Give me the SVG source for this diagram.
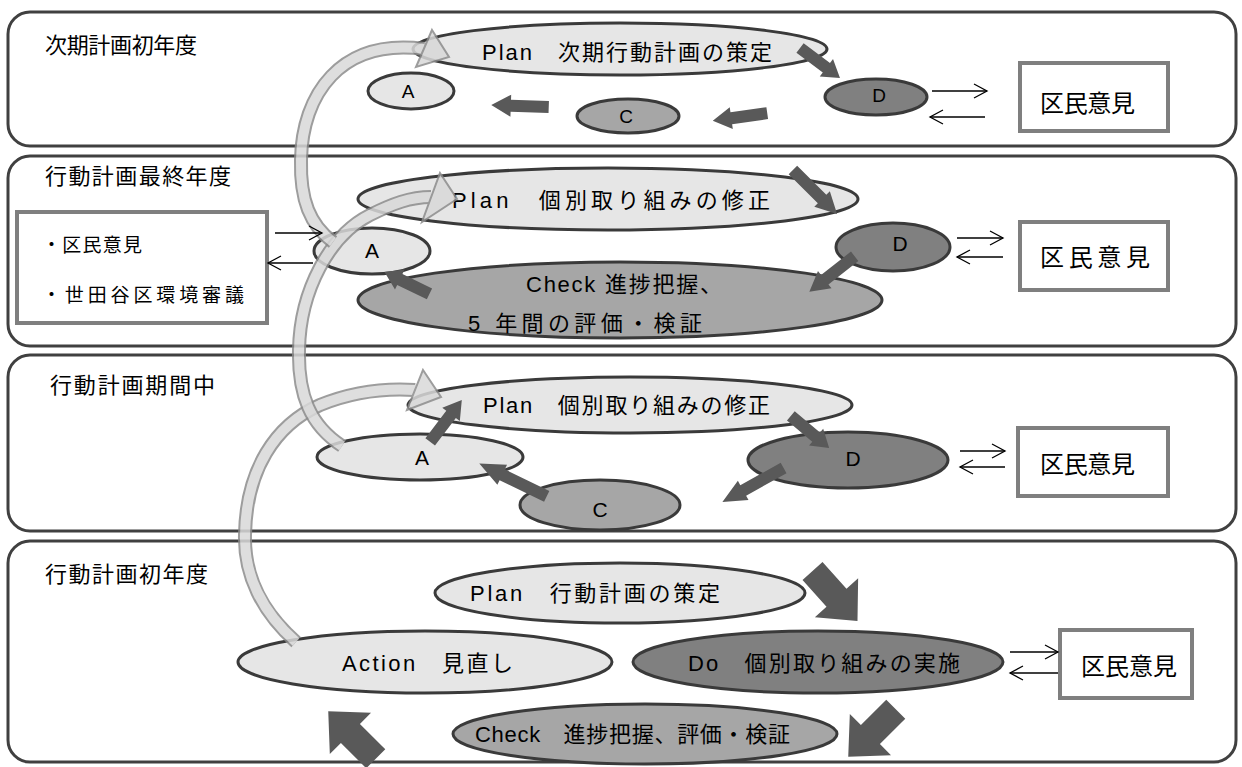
<svg xmlns="http://www.w3.org/2000/svg" width="1242" height="767" viewBox="0 0 1242 767">
<defs>
<style>
.band{fill:#fff;stroke:#404040;stroke-width:3}
.el{stroke:#3a3a3a;stroke-width:3}
.l{fill:#e6e6e6}
.m{fill:#a6a6a6}
.d{fill:#808080}
.box{fill:#fff;stroke:#7f7f7f;stroke-width:4}
text{font-family:"Liberation Sans","Noto Sans CJK JP",sans-serif;fill:#000;font-size:22px}
.s{font-size:19px}
.lb{font-size:21px}
.bx{font-size:24px}
.c{text-anchor:middle}
.thin{stroke:#000;stroke-width:1.3;fill:none;marker-end:url(#open)}
.blk{fill:#595959}
.co{fill:none;stroke:#8c8c8c;stroke-width:14}
.ci{fill:none;stroke:#d9d9d9;stroke-width:10}
.ch{fill:#d9d9d9;stroke:#8c8c8c;stroke-width:2;stroke-linejoin:miter}
</style>
<marker id="open" markerUnits="userSpaceOnUse" markerWidth="16" markerHeight="16" refX="14" refY="8" orient="auto"><path d="M1,1 L14,8 L1,15" fill="none" stroke="#000" stroke-width="1.3"/></marker>
<path id="sa" d="M-25,-6 L8,-6 L8,-11 L25,0 L8,11 L8,6 L-25,6 Z"/>
<path id="ba" d="M-30,-12 L2,-12 L2,-26 L30,0 L2,26 L2,12 L-30,12 Z"/>
</defs>

<g id="band1">
<rect class="band" x="8" y="12" width="1228" height="134" rx="22"/>
<text x="45" y="53" textLength="152">次期計画初年度</text>
</g>
<g id="band2">
<rect class="band" x="8" y="156" width="1228" height="190" rx="22"/>
<text x="45" y="184" textLength="186">行動計画最終年度</text>
</g>
<g id="band3">
<rect class="band" x="8" y="355" width="1228" height="176" rx="22"/>
<text x="50" y="393" textLength="165">行動計画期間中</text>
</g>
<g id="band4">
<rect class="band" x="8" y="541" width="1228" height="221" rx="22"/>
<text x="45" y="582" textLength="163">行動計画初年度</text>
</g>

<!-- band 1 nodes -->
<g id="b1-plan"><ellipse class="el l" cx="620" cy="49" rx="207" ry="26"/><text x="482" y="60" textLength="290">Plan　次期行動計画の策定</text></g>
<g id="b1-a"><ellipse class="el l" cx="411" cy="91" rx="43" ry="18"/><text x="408" y="98" class="s c">A</text></g>
<g id="b1-c"><ellipse class="el m" cx="628" cy="116" rx="51" ry="17"/><text x="626" y="123" class="s c">C</text></g>
<g id="b1-d"><ellipse class="el d" cx="876" cy="97" rx="51" ry="18"/><text x="879" y="102" class="s c">D</text></g>
<g id="b1-box"><rect class="box" x="1020" y="63" width="148" height="68"/><text x="1040" y="112" class="bx" textLength="95">区民意見</text></g>

<!-- band 2 nodes -->
<g id="b2-plan"><ellipse class="el l" cx="608" cy="199" rx="250" ry="31"/><text x="452" y="208" textLength="318">Plan　個別取り組みの修正</text></g>
<g id="b2-check"><ellipse class="el m" cx="620" cy="300" rx="262" ry="38"/><text x="526" y="292" textLength="196">Check 進捗把握、</text><text x="468" y="331" textLength="234">5 年間の評価・検証</text></g>
<g id="b2-a"><ellipse class="el l" cx="372" cy="251" rx="58" ry="23"/><text x="372" y="258" class="lb c">A</text></g>
<g id="b2-d"><ellipse class="el d" cx="893" cy="247" rx="57" ry="24"/><text x="900" y="251" class="lb c">D</text></g>
<g id="b2-left"><rect class="box" x="17" y="212" width="250" height="111"/><text x="42" y="252" class="s" textLength="100">・区民意見</text><text x="42" y="302" class="s" textLength="202">・世田谷区環境審議</text></g>
<g id="b2-box"><rect class="box" x="1020" y="222" width="148" height="68"/><text x="1040" y="266" class="bx" textLength="110">区 民 意 見</text></g>

<!-- band 3 nodes -->
<g id="b3-plan"><ellipse class="el l" cx="630" cy="405" rx="222" ry="28"/><text x="483" y="413" textLength="287">Plan　個別取り組みの修正</text></g>
<g id="b3-a"><ellipse class="el l" cx="420" cy="457" rx="103" ry="23"/><text x="422" y="465" class="lb c">A</text></g>
<g id="b3-d"><ellipse class="el d" cx="848" cy="460" rx="100" ry="28"/><text x="853" y="466" class="lb c">D</text></g>
<g id="b3-c"><ellipse class="el m" cx="600" cy="505" rx="80" ry="25"/><text x="600" y="517" class="lb c">C</text></g>
<g id="b3-box"><rect class="box" x="1018" y="428" width="150" height="68"/><text x="1040" y="473" class="bx" textLength="95">区民意見</text></g>

<!-- band 4 nodes -->
<g id="b4-plan"><ellipse class="el l" cx="620" cy="593" rx="185" ry="30"/><text x="470" y="601" textLength="250">Plan　行動計画の策定</text></g>
<g id="b4-action"><ellipse class="el l" cx="425" cy="662" rx="187" ry="31"/><text x="342" y="671" textLength="171">Action　見直し</text></g>
<g id="b4-do"><ellipse class="el d" cx="818" cy="662" rx="185" ry="31"/><text x="688" y="671" textLength="272">Do　個別取り組みの実施</text></g>
<g id="b4-check"><ellipse class="el m" cx="645" cy="734" rx="192" ry="30"/><text x="475" y="742" textLength="315">Check　進捗把握、評価・検証</text></g>
<g id="b4-box"><rect class="box" x="1060" y="630" width="132" height="68"/><text x="1081" y="675" class="bx" textLength="96">区民意見</text></g>

<g id="connectors">
<!-- small block arrows -->
<use href="#sa" class="blk" transform="translate(820,63) rotate(37)"/>
<use href="#sa" class="blk" transform="translate(740,117) rotate(172) scale(1.1,1)"/>
<use href="#sa" class="blk" transform="translate(520,106) rotate(182) scale(1.15,1)"/>
<use href="#sa" class="blk" transform="translate(815,192) rotate(45) scale(1.25,1)"/>
<use href="#sa" class="blk" transform="translate(832,274) rotate(142) scale(1.15,1)"/>
<use href="#sa" class="blk" transform="translate(407,283) rotate(206)"/>
<use href="#sa" class="blk" transform="translate(810,432) rotate(40)"/>
<use href="#sa" class="blk" transform="translate(753,485) rotate(151) scale(1.4,1)"/>
<use href="#sa" class="blk" transform="translate(513,480) rotate(206) scale(1.5,1)"/>
<use href="#sa" class="blk" transform="translate(446,421) rotate(-53) scale(1.05,1)"/>

<!-- big block arrows -->
<use href="#ba" class="blk" transform="translate(835,596) rotate(48) scale(1.12)"/>
<use href="#ba" class="blk" transform="translate(872,733) rotate(135) scale(1.12)"/>
<use href="#ba" class="blk" transform="translate(352,735) rotate(225) scale(1.12)"/>

<!-- curved light arrows -->
<g id="curve-b4-b3" opacity="0.85">
<path class="co" d="M296,642 C262,612 244,575 245,535 C246,470 275,425 320,405 C352,392 385,388 415,390"/>
<path class="ci" d="M296,642 C262,612 244,575 245,535 C246,470 275,425 320,405 C352,392 385,388 415,390"/>
<polygon class="ch" points="423,370 441,397 407,410"/>
</g>
<g id="curve-b3-b2" opacity="0.85">
<path class="co" d="M342,446 C310,425 298,395 299,350 C300,290 330,235 370,215 C392,204 410,197 431,197"/>
<path class="ci" d="M342,446 C310,425 298,395 299,350 C300,290 330,235 370,215 C392,204 410,197 431,197"/>
<polygon class="ch" points="440,173 457,199 422,222"/>
</g>
<g id="curve-b2-b1" opacity="0.85">
<path class="co" d="M333,242 C310,225 300,200 301,160 C302,95 340,38 424,49"/>
<path class="ci" d="M333,242 C310,225 300,200 301,160 C302,95 340,38 424,49"/>
<polygon class="ch" points="432,30 449,57 416,67"/>
</g>

<!-- thin double arrows -->
<line class="thin" x1="932" y1="91" x2="987" y2="91"/>
<line class="thin" x1="985" y1="117" x2="930" y2="117"/>
<line class="thin" x1="275" y1="233" x2="322" y2="233"/>
<line class="thin" x1="313" y1="263" x2="268" y2="263"/>
<line class="thin" x1="957" y1="238" x2="1003" y2="238"/>
<line class="thin" x1="1003" y1="257" x2="957" y2="257"/>
<line class="thin" x1="960" y1="451" x2="1005" y2="451"/>
<line class="thin" x1="1005" y1="467" x2="960" y2="467"/>
<line class="thin" x1="1010" y1="652" x2="1058" y2="652"/>
<line class="thin" x1="1058" y1="673" x2="1010" y2="673"/>
</g>
</svg>
